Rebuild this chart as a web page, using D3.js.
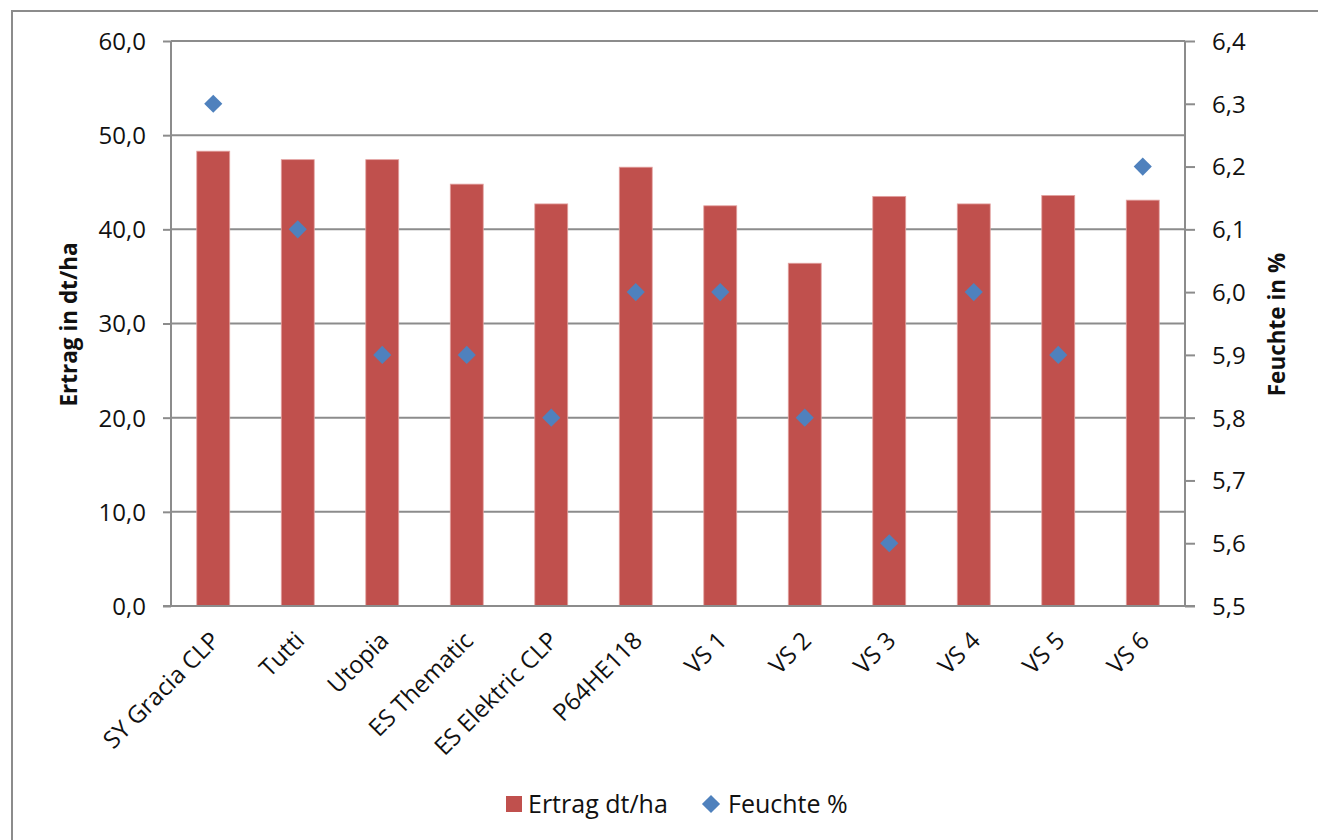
<!DOCTYPE html>
<html><head><meta charset="utf-8">
<script src="https://cdn.jsdelivr.net/npm/d3@7"></script>
<style>
html,body{margin:0;padding:0;background:#fff;}
svg{display:block;}
text{font-family:"Open Sans",sans-serif;fill:#111;}
</style></head>
<body>
<svg id="c" width="1318" height="840"></svg>
<script>
const categories = ["SY Gracia CLP","Tutti","Utopia","ES Thematic","ES Elektric CLP","P64HE118","VS 1","VS 2","VS 3","VS 4","VS 5","VS 6"];
const ertrag = [48.3,47.4,47.4,44.8,42.7,46.6,42.5,36.4,43.5,42.7,43.6,43.1];
const feuchte = [6.3,6.1,5.9,5.9,5.8,6.0,6.0,5.8,5.6,6.0,5.9,6.2];
const leftTicks = [0,10,20,30,40,50,60];
const rightTicks = [5.5,5.6,5.7,5.8,5.9,6.0,6.1,6.2,6.3,6.4];

const svg = d3.select("#c");
const L = 171, R = 1185, T = 41, B = 606;
const barColor = "#C0504D", ptColor = "#4F81BD", gridColor = "#8c8c8c";
const fmt = d => d3.format(".1f")(d).replace(".", ",");

// frame
svg.append("rect").attr("x",12).attr("y",11).attr("width",1400).attr("height",900)
  .attr("fill","none").attr("stroke",gridColor).attr("stroke-width",2);

const x = d3.scaleBand().domain(categories).range([L,R]).paddingInner(0.61).paddingOuter(0.305);
const yL = d3.scaleLinear().domain([0,60]).range([B,T]);
const yR = d3.scaleLinear().domain([5.5,6.4]).range([B,T]);

// gridlines
svg.append("g").selectAll("line").data(leftTicks.filter(d=>d>0)).join("line")
  .attr("x1",L).attr("x2",R).attr("y1",d=>yL(d)).attr("y2",d=>yL(d))
  .attr("stroke",gridColor).attr("stroke-width",2);

// bars
svg.append("g").selectAll("rect").data(categories).join("rect")
  .attr("x",d=>x(d)).attr("width",x.bandwidth())
  .attr("y",(d,i)=>yL(ertrag[i])).attr("height",(d,i)=>B-yL(ertrag[i]))
  .attr("fill",barColor).attr("stroke","#e3a3a1").attr("stroke-width",0.8);

// left axis
const gl = svg.append("g").attr("transform",`translate(${L},0)`)
  .call(d3.axisLeft(yL).tickValues(leftTicks).tickFormat(fmt).tickSize(8).tickPadding(17));
gl.select(".domain").attr("stroke",gridColor).attr("stroke-width",2).attr("d",`M0,${T}V${B}`);
gl.selectAll(".tick line").attr("stroke",gridColor).attr("stroke-width",2);
gl.selectAll(".tick text").style("font-size","24px").attr("fill","#111").attr("dy","0.35em");

// right axis
const gr = svg.append("g").attr("transform",`translate(${R},0)`)
  .call(d3.axisRight(yR).tickValues(rightTicks).tickFormat(fmt).tickSize(10).tickPadding(17));
gr.select(".domain").attr("stroke",gridColor).attr("stroke-width",2).attr("d",`M0,${T}V${B}`);
gr.selectAll(".tick line").attr("stroke",gridColor).attr("stroke-width",2);
gr.selectAll(".tick text").style("font-size","24px").attr("fill","#111").attr("dy","0.35em");

// bottom axis
const gb = svg.append("g").attr("transform",`translate(0,${B})`)
  .call(d3.axisBottom(x).tickSize(0).tickPadding(0));
gb.select(".domain").attr("stroke",gridColor).attr("stroke-width",2).attr("d",`M${L-8},0H${R+10}`);
gb.selectAll(".tick text").style("font-size","24px").attr("fill","#111")
  .attr("text-anchor","end").attr("dy","0")
  .attr("transform","translate(8,36) rotate(-45)");

// points (diamonds)
const dia = d3.symbol().type(d3.symbolDiamond2).size(210);
svg.append("g").selectAll("path").data(categories).join("path")
  .attr("d",dia)
  .attr("transform",(d,i)=>`translate(${x(d)+x.bandwidth()/2},${yR(feuchte[i])})`)
  .attr("fill",ptColor);

// axis titles
svg.append("text").attr("transform",`translate(77,${(T+B)/2+1}) rotate(-90)`)
  .attr("text-anchor","middle").style("font-size","22.5px").style("font-weight","bold").text("Ertrag in dt/ha");
svg.append("text").attr("transform",`translate(1285,${(T+B)/2+1}) rotate(-90)`)
  .attr("text-anchor","middle").style("font-size","22.5px").style("font-weight","bold").text("Feuchte in %");

// legend
const lg = svg.append("g");
lg.append("rect").attr("x",506).attr("y",796).attr("width",16).attr("height",16).attr("fill",barColor);
lg.append("text").attr("x",528).attr("y",804).attr("dy","0.35em").style("font-size","25px").text("Ertrag dt/ha");
lg.append("path").attr("d",d3.symbol().type(d3.symbolDiamond2).size(210)).attr("transform","translate(711,804)").attr("fill",ptColor);
lg.append("text").attr("x",728).attr("y",804).attr("dy","0.35em").style("font-size","25px").text("Feuchte %");
</script>
</body></html>
